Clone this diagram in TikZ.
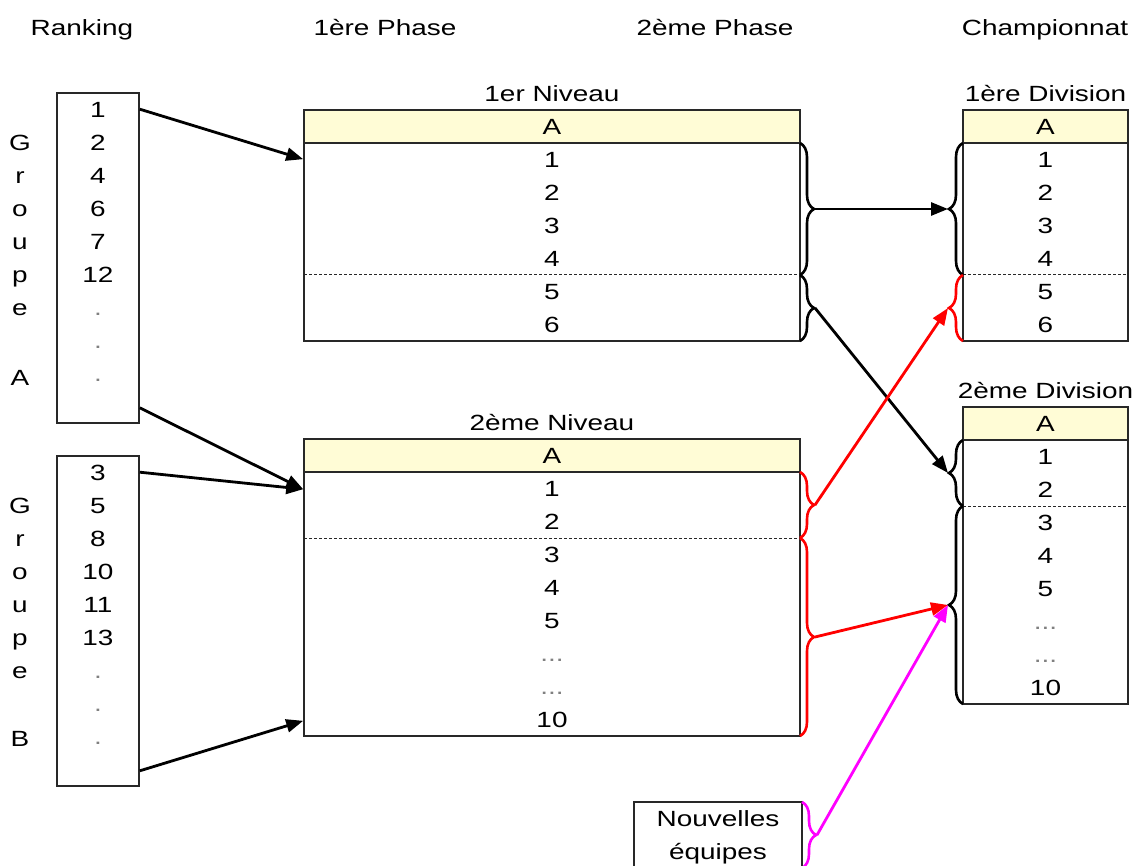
\documentclass[tikz,border=0pt]{standalone}
\usepackage{fontspec}
\setmainfont{Liberation Sans}[FakeStretch=1.27]
\usetikzlibrary{positioning,arrows.meta,decorations.pathreplacing}

\definecolor{headyellow}{RGB}{255,252,214}
\definecolor{frame}{RGB}{40,40,40}
\definecolor{newpink}{RGB}{255,0,255}
\definecolor{upred}{RGB}{255,0,0}

\begin{document}
\begin{tikzpicture}[x=1pt,y=-1pt,
    every node/.style={font=\fontsize{22}{26}\selectfont, text=black,
      inner sep=0pt, text height=16pt, text depth=0pt},
    box/.style={draw=frame, line width=1.6pt, fill=white},
    headcell/.style={box, fill=headyellow},
    sepline/.style={draw=frame, line width=1pt, dash pattern=on 3pt off 2pt},
    curly/.style={line width=2.6pt, decorate, decoration={brace, amplitude=14pt}},
    link/.style={line width=2.8pt, -{Triangle[length=17pt,width=13pt]}},
    faint/.style={text=gray}]
\useasboundingbox (0,0) rectangle (1138,866);

% column titles
\node (ranking) at (82,28) {Ranking};
\node (phaseI) at (385,28) {1ère Phase};
\node (phaseII) at (715,28) {2ème Phase};
\node (champ) at (1045,28) {Championnat};

% ranking groups
\node[box, minimum width=82pt, minimum height=330pt] (grpA) at (98,258) {};
\node[box, minimum width=82pt, minimum height=330pt] (grpB) at (98,621) {};
\foreach \v [count=\i] in {1,2,4,6,7,12}
  \node (grpA\i) at (98,77+33*\i) {\v};
\foreach \v [count=\i] in {3,5,8,10,11,13}
  \node (grpB\i) at (98,439+33*\i) {\v};
\foreach \i in {7,8,9} {
  \node[faint] (grpA\i) at (98,77+33*\i) {.};
  \node[faint] (grpB\i) at (98,439+33*\i) {.};
}
\foreach \l [count=\i] in {G,r,o,u,p,e} {
  \node (lblA\i) at (20,110+33*\i) {\l};
  \node (lblB\i) at (20,472+33*\i) {\l};
}
\node (lblA7) at (20,378) {A};
\node (lblB7) at (20,738) {B};

% 1er Niveau
\node[headcell, minimum width=496pt, minimum height=33pt] (n1head) at (552,126.5) {A};
\node[box, minimum width=496pt, minimum height=198pt] (n1body) at (552,242) {};
\node[above=7pt of n1head] (n1title) {1er Niveau};
\foreach \i in {1,...,6}
  \node (n1r\i) at (552,126.5+33*\i) {\i};
\draw[sepline] (304,275) -- (800,275);

% 2eme Niveau
\node[headcell, minimum width=496pt, minimum height=33pt] (n2head) at (552,455.5) {A};
\node[box, minimum width=496pt, minimum height=264pt] (n2body) at (552,604) {};
\node[above=7pt of n2head] (n2title) {2ème Niveau};
\foreach \i in {1,...,5}
  \node (n2r\i) at (552,455.5+33*\i) {\i};
\node[faint] (n2r6) at (552,653.5) {...};
\node[faint] (n2r7) at (552,686.5) {...};
\node (n2r8) at (552,719.5) {10};
\draw[sepline] (304,538) -- (800,538);

% 1ere Division
\node[headcell, minimum width=165pt, minimum height=33pt] (d1head) at (1045.5,126.5) {A};
\node[box, minimum width=165pt, minimum height=198pt] (d1body) at (1045.5,242) {};
\node[above=7pt of d1head] (d1title) {1ère Division};
\foreach \i in {1,...,6}
  \node (d1r\i) at (1045.5,126.5+33*\i) {\i};
\draw[sepline] (963,275) -- (1128,275);

% 2eme Division
\node[headcell, minimum width=165pt, minimum height=33pt] (d2head) at (1045.5,423.5) {A};
\node[box, minimum width=165pt, minimum height=264pt] (d2body) at (1045.5,572) {};
\node[above=7pt of d2head] (d2title) {2ème Division};
\foreach \i in {1,...,5}
  \node (d2r\i) at (1045.5,423.5+33*\i) {\i};
\node[faint] (d2r6) at (1045.5,621.5) {...};
\node[faint] (d2r7) at (1045.5,654.5) {...};
\node (d2r8) at (1045.5,687.5) {10};
\draw[sepline] (963,506) -- (1128,506);

% new teams
\node[box, minimum width=168pt, minimum height=66pt] (newbox) at (718,835) {};
\node (new1) at (718,818) {Nouvelles};
\node (new2) at (718,851) {équipes};

% braces out of the first phase
\draw[curly] (800,143) -- (800,275);
\draw[curly] (800,275) -- (800,341);
\draw[curly, upred] (800,472) -- (800,538);
\draw[curly, upred] (800,538) -- (800,736);
\draw[curly, newpink] (802,802) -- (802,868);
% braces into the divisions
\draw[curly] (963,275) -- (963,143);
\draw[curly, upred] (963,341) -- (963,275);
\draw[curly] (963,506) -- (963,440);
\draw[curly] (963,704) -- (963,506);

\coordinate (n1top) at (815,209);
\coordinate (n1low) at (815,308);
\coordinate (n2top) at (815,505);
\coordinate (n2low) at (815,637);
\coordinate (newtip) at (817,835);
\coordinate (d1top) at (948,209);
\coordinate (d1low) at (948,308);
\coordinate (d2top) at (948,473);
\coordinate (d2low) at (948,605);

% ranking -> first phase
\draw[link] ([yshift=-17pt]grpA.north east) -- ([yshift=-17pt]n1body.north west);
\draw[link] ([yshift=16pt]grpA.south east) -- ([yshift=-18pt]n2body.north west);
\draw[link] ([yshift=-17pt]grpB.north east) -- ([yshift=-18pt]n2body.north west);
\draw[link] ([yshift=16pt]grpB.south east) -- ([yshift=16pt]n2body.south west);

% first phase -> championnat
\draw[link] (n1top) -- (d1top);
\draw[link] (n1low) -- (d2top);
\draw[link, upred] (n2top) -- (d1low);
\draw[link, upred] (n2low) -- (d2low);
\draw[link, newpink] (newtip) -- (d2low);
\end{tikzpicture}
\end{document}
